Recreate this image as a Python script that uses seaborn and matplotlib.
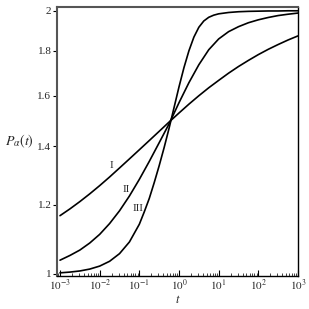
import numpy as np
import pandas as pd
import matplotlib
matplotlib.use("Agg")
import matplotlib.pyplot as plt
import seaborn as sns
from matplotlib.ticker import FixedLocator, FixedFormatter, LogLocator, NullFormatter, NullLocator

# ---- data (log10 t and P values) ----
log_t = [-3.0, -2.75, -2.5, -2.25, -2.0, -1.75, -1.5, -1.25, -1.0, -0.75, -0.5, -0.25,
         0.0, 0.25, 0.5, 0.75, 1.0, 1.25, 1.5, 1.75, 2.0, 2.25, 2.5, 2.75, 3.0]
P_I = [1.166, 1.187, 1.210, 1.235, 1.262, 1.291, 1.322, 1.354, 1.387, 1.421, 1.456, 1.492,
       1.528, 1.564, 1.599, 1.633, 1.665, 1.697, 1.727, 1.755, 1.782, 1.807, 1.830, 1.852, 1.872]
P_II = [1.037, 1.050, 1.065, 1.085, 1.110, 1.142, 1.181, 1.228, 1.283, 1.345, 1.413, 1.485,
        1.570, 1.655, 1.735, 1.805, 1.857, 1.893, 1.918, 1.938, 1.953, 1.965, 1.975, 1.982, 1.988]
log_t_III = [-3.0, -2.75, -2.5, -2.25, -2.0, -1.75, -1.5, -1.25, -1.0, -0.875, -0.75, -0.625,
             -0.5, -0.375, -0.25, -0.125, 0.0, 0.125, 0.25, 0.375, 0.5, 0.625, 0.75, 0.875,
             1.0, 1.25, 1.5, 1.75, 2.0, 2.25, 2.5, 2.75, 3.0]
P_III = [1.003, 1.005, 1.008, 1.013, 1.021, 1.034, 1.055, 1.088, 1.140, 1.178, 1.220, 1.272,
         1.330, 1.395, 1.468, 1.550, 1.637, 1.722, 1.800, 1.866, 1.915, 1.947, 1.966, 1.977,
         1.984, 1.991, 1.995, 1.997, 1.998, 1.999, 1.999, 2.000, 2.000]

curve_names = ["I", "II", "III"]
label_t = [0.0193, 0.0461, 0.0942]
label_P = [1.332, 1.250, 1.189]

x_ticks = [1e-3, 1e-2, 1e-1, 1e0, 1e1, 1e2, 1e3]
x_tick_labels = [r"$10^{-3}$", r"$10^{-2}$", r"$10^{-1}$", r"$10^{0}$", r"$10^{1}$", r"$10^{2}$", r"$10^{3}$"]
y_ticks = [1.0, 1.2, 1.4, 1.6, 1.8, 2.0]
y_tick_labels = ["1", "1.2", "1.4", "1.6", "1.8", "2"]

df = pd.concat([
    pd.DataFrame({"t": 10.0 ** np.array(log_t), "P": P_I, "curve": "I"}),
    pd.DataFrame({"t": 10.0 ** np.array(log_t), "P": P_II, "curve": "II"}),
    pd.DataFrame({"t": 10.0 ** np.array(log_t_III), "P": P_III, "curve": "III"}),
], ignore_index=True)

sns.set_style("white")
plt.rcParams["font.family"] = ["Liberation Serif", "DejaVu Serif"]
plt.rcParams["mathtext.fontset"] = "stix"

fig = plt.figure(figsize=(3.09, 3.09), dpi=100)
ax = fig.add_axes([57 / 309, 1 - 276 / 309, 241 / 309, 269 / 309])

sns.lineplot(data=df, x="t", y="P", hue="curve", palette=["black"] * 3,
             legend=False, ax=ax, linewidth=1.2, sort=True, estimator=None)

ax.set_xscale("log")
ax.set_yscale("log")
ax.set_xlim(10 ** -3.076, 1e3)
ax.set_ylim(0.9947, 2.02)

ax.xaxis.set_major_locator(FixedLocator(x_ticks))
ax.xaxis.set_major_formatter(FixedFormatter(x_tick_labels))
ax.xaxis.set_minor_locator(LogLocator(base=10, subs=np.arange(2, 10), numticks=20))
ax.xaxis.set_minor_formatter(NullFormatter())
ax.yaxis.set_major_locator(FixedLocator(y_ticks))
ax.yaxis.set_major_formatter(FixedFormatter(y_tick_labels))
ax.yaxis.set_minor_locator(NullLocator())
ax.yaxis.set_minor_formatter(NullFormatter())

ax.tick_params(axis="x", which="major", direction="in", length=4, width=0.8, labelsize=8, pad=1.5,
               bottom=True, top=False, color="black")
ax.tick_params(axis="x", which="minor", direction="in", length=2, width=0.6, bottom=True, top=False)
ax.tick_params(axis="y", which="major", direction="out", length=3, width=0.8, labelsize=8, pad=1,
               left=True, right=False, color="black")

for side in ["left", "top"]:
    ax.spines[side].set_color("#555555")
    ax.spines[side].set_linewidth(1.5)
for side in ["right", "bottom"]:
    ax.spines[side].set_color("black")
    ax.spines[side].set_linewidth(1.0)

for name, tx, py in zip(curve_names, label_t, label_P):
    ax.text(tx, py, name, fontsize=8, ha="center", va="center")

ax.set_xlabel(r"$t$", fontsize=9)
ax.xaxis.set_label_coords(0.502, -0.09)
ax.xaxis.label.set_va("center")
ax.set_ylabel(r"$P_{\alpha}(t)$", fontsize=10, rotation=0)
ax.yaxis.set_label_coords(-0.154, 0.50)
ax.yaxis.label.set_ha("center")
ax.yaxis.label.set_va("center")

fig.savefig("out.png", dpi=100)
